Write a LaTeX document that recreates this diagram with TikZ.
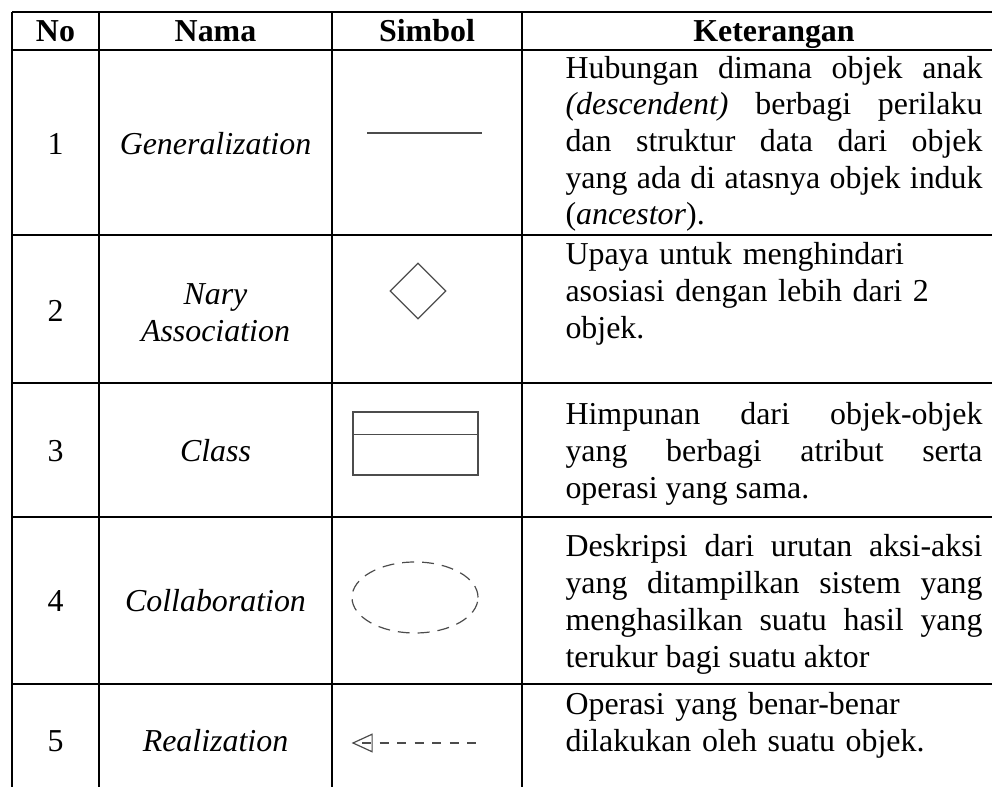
\documentclass[tikz,border=0pt]{standalone}
\usepackage{fontspec}
\setmainfont{Liberation Serif}
\usetikzlibrary{arrows.meta,shapes.geometric}
\hyphenpenalty=10000
\exhyphenpenalty=10000
\newcommand\isi{\fontsize{12pt}{13.8pt}\selectfont}
\tikzset{
  garis/.style={line width=0.5pt},
  judul/.style={anchor=base,font=\isi\bfseries},
  nomor/.style={anchor=base},
  nama/.style={font=\isi\itshape,align=center},
  ket/.style={anchor=base west,inner sep=0pt,text width=156.8pt,align=justify},
  ketkiri/.style={ket,align=left},
  simbol/.style={draw=black!70,line width=0.45pt},
}
\begin{document}
\begin{tikzpicture}[x=0.376pt,y=-0.376pt,every node/.style={font=\isi}]
      \useasboundingbox (0,0) rectangle (992,787);
      \draw[garis]
        (12,12) -- (992,12) (12,50) -- (992,50) (12,235) -- (992,235)
        (12,383) -- (992,383) (12,517) -- (992,517) (12,684) -- (992,684)
        (12,12) -- (12,787) (99,12) -- (99,787) (332,12) -- (332,787) (522,12) -- (522,787);
      \draw
        (55.5,41.5) node[judul] (hno){No}
        (215.5,41.5) node[judul] (hnama){Nama}
        (427,41.5) node[judul] (hsimbol){Simbol}
        (774,41.5) node[judul] (hket){Keterangan};
      \draw
        (55.5,155) node[nomor] (n1){1}
        (55.5,322) node[nomor] (n2){2}
        (55.5,462) node[nomor] (n3){3}
        (55.5,612) node[nomor] (n4){4}
        (55.5,752) node[nomor] (n5){5};
      \draw
        (215.5,155) node[nama,anchor=base] (generalization){Generalization}
        (215.5,313) node[nama] (nary){Nary\\Association}
        (215.5,462) node[nama,anchor=base] (class){Class}
        (215.5,612) node[nama,anchor=base] (collaboration){Collaboration}
        (215.5,752) node[nama,anchor=base] (realization){Realization};
      \draw
        (565,78.2) node[ket] (k1){Hubungan dimana objek anak\linebreak
          \textit{(descendent)} berbagi perilaku\linebreak
          dan struktur data dari objek\linebreak
          yang ada di atasnya objek induk\linebreak
          (\textit{ancestor}).}
        (565,265) node[ketkiri] (k2){Upaya untuk menghindari\\
          asosiasi dengan lebih dari 2\\
          objek.}
        (565,425) node[ket] (k3){Himpunan dari objek-objek\linebreak
          yang berbagi atribut serta\linebreak
          operasi yang sama.}
        (565,557) node[ket] (k4){Deskripsi dari urutan aksi-aksi\linebreak
          yang ditampilkan sistem yang\linebreak
          menghasilkan suatu hasil yang\linebreak
          terukur bagi suatu aktor}
        (565,715) node[ketkiri] (k5){Operasi yang benar-benar\\
          dilakukan oleh suatu objek.};
      \coordinate (g1) at (367,133);
      \coordinate (g2) at (482,133);
      \draw[simbol] (g1) -- (g2);
      \node[simbol,diamond,minimum width=21pt,minimum height=21pt,inner sep=0pt] (nas) at (418,291) {};
      \node[simbol,rectangle,minimum width=47pt,minimum height=23.7pt,inner sep=0pt] (kelas) at (415.5,443.5) {};
      \draw[simbol] ([yshift=-8.6pt]kelas.north west) -- ([yshift=-8.6pt]kelas.north east);
      \node[simbol,ellipse,dash pattern=on 4.5pt off 3pt,minimum width=47.4pt,minimum height=26.7pt,inner sep=0pt] (kolab) at (415,597.5) {};
      \coordinate (r1) at (353,743);
      \coordinate (r3) at (362,743);
      \coordinate (r2) at (478,743);
      \draw[simbol] (r1) -- ++(7.2pt,3.3pt) -- ++(0,-6.6pt) -- cycle;
      \draw[simbol,dash pattern=on 3.4pt off 3.2pt] (r3) -- (r2);
    \end{tikzpicture}
\end{document}
